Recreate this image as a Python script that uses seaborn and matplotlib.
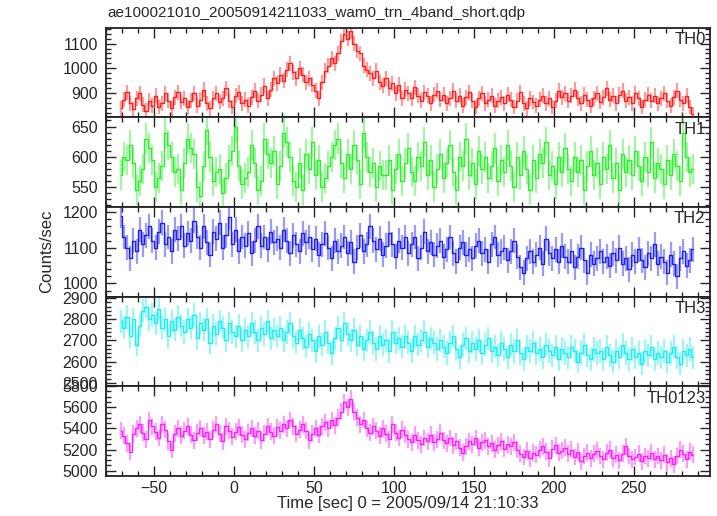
import numpy as np
import pandas as pd
import matplotlib
matplotlib.use('Agg')
from matplotlib import pyplot as plt
from matplotlib.ticker import MultipleLocator
import seaborn as sns

# 2 s bins, centres from -71 to 287 sec
time_start = -71
bin_width = 2

th0 = [840, 875, 905, 860, 835, 880, 900, 855, 830, 870,
       850, 890, 845, 860, 900, 870, 840, 885, 905, 865,
       880, 845, 870, 900, 850, 875, 915, 860, 840, 880,
       900, 865, 880, 920, 870, 845, 890, 905, 860, 875,
       850, 885, 910, 870, 895, 930, 880, 915, 960, 940,
       975, 950, 995, 1020, 985, 960, 1000, 975, 945, 960,
       935, 910, 880, 945, 990, 1010, 1040, 1020, 1060, 1110,
       1140, 1120, 1150, 1100, 1070, 1060, 1010, 995, 980, 960,
       990, 945, 930, 960, 920, 940, 900, 935, 880, 915,
       900, 880, 925, 890, 870, 905, 890, 860, 895, 910,
       875, 895, 860, 880, 910, 870, 890, 850, 885, 905,
       870, 845, 880, 900, 860, 875, 890, 850, 870, 885,
       860, 895, 875, 845, 870, 905, 860, 840, 880, 865,
       850, 875, 890, 860, 880, 845, 870, 910, 885, 900,
       870, 890, 915, 880, 860, 895, 875, 850, 880, 900,
       865, 885, 920, 875, 890, 860, 895, 910, 870, 885,
       860, 900, 880, 845, 875, 895, 870, 890, 860, 880,
       900, 870, 850, 885, 910, 875, 860, 890, 845, 815]

th1 = [570, 600, 595, 620, 590, 545, 560, 580, 630, 615,
       595, 550, 565, 585, 640, 620, 600, 575, 580, 545,
       590, 630, 615, 605, 550, 535, 585, 645, 600, 560,
       575, 580, 540, 565, 595, 610, 650, 585, 555, 565,
       575, 620, 590, 545, 560, 630, 605, 590, 610, 555,
       585, 640, 625, 600, 560, 550, 590, 545, 605, 580,
       625, 570, 595, 550, 565, 585, 600, 620, 630, 590,
       565, 605, 580, 620, 595, 555, 640, 600, 575, 590,
       550, 585, 570, 570, 595, 545, 580, 605, 560, 590,
       615, 575, 560, 600, 585, 625, 570, 595, 550, 580,
       605, 565, 590, 620, 575, 545, 600, 585, 630, 570,
       590, 555, 610, 580, 600, 565, 585, 615, 560, 595,
       575, 620, 585, 550, 600, 570, 610, 580, 545, 595,
       565, 605, 590, 625, 570, 585, 555, 600, 575, 615,
       580, 560, 600, 575, 595, 545, 585, 610, 570, 590,
       555, 600, 580, 620, 565, 590, 545, 605, 575, 595,
       570, 610, 585, 560, 600, 575, 625, 565, 590, 580,
       555, 595, 570, 605, 585, 560, 640, 600, 575, 580]

th2 = [1190, 1130, 1100, 1070, 1120, 1090, 1150, 1110, 1135, 1160,
       1120, 1100, 1145, 1170, 1110, 1130, 1090, 1150, 1125, 1160,
       1105, 1140, 1120, 1175, 1130, 1100, 1160, 1115, 1080, 1145,
       1125, 1170, 1100, 1135, 1185, 1110, 1150, 1090, 1130, 1105,
       1140, 1085, 1120, 1160, 1105, 1130, 1095, 1145, 1115, 1125,
       1100, 1150, 1120, 1085, 1135, 1110, 1090, 1140, 1115, 1130,
       1095, 1125, 1080, 1110, 1140, 1100, 1070, 1120, 1090, 1105,
       1130, 1085, 1115, 1060, 1100, 1135, 1090, 1110, 1160, 1120,
       1095, 1125, 1080, 1105, 1140, 1110, 1075, 1120, 1100, 1130,
       1085, 1110, 1130, 1070, 1100, 1145, 1090, 1115, 1080, 1105,
       1120, 1075, 1095, 1130, 1085, 1060, 1100, 1115, 1080, 1095,
       1070, 1105, 1120, 1085, 1095, 1060, 1110, 1130, 1080, 1090,
       1100, 1065, 1090, 1120, 1075, 1045, 1030, 1070, 1090, 1060,
       1080, 1100, 1055, 1125, 1085, 1070, 1095, 1060, 1105, 1075,
       1060, 1090, 1045, 1075, 1100, 1065, 1030, 1080, 1055, 1070,
       1090, 1060, 1075, 1050, 1085, 1065, 1100, 1055, 1070, 1040,
       1080, 1060, 1095, 1065, 1045, 1085, 1070, 1110, 1055, 1075,
       1060, 1030, 1080, 1055, 1020, 1070, 1090, 1050, 1065, 1095]

th3 = [2790, 2760, 2810, 2720, 2800, 2680, 2770, 2840, 2860, 2800,
       2820, 2780, 2850, 2760, 2800, 2720, 2790, 2750, 2810, 2770,
       2740, 2800, 2760, 2820, 2710, 2780, 2750, 2800, 2690, 2770,
       2730, 2790, 2760, 2700, 2780, 2740, 2720, 2770, 2700, 2750,
       2720, 2780, 2740, 2700, 2760, 2730, 2790, 2710, 2750, 2720,
       2760, 2700, 2740, 2780, 2720, 2690, 2750, 2710, 2670, 2730,
       2700, 2650, 2720, 2680, 2740, 2690, 2640, 2710, 2760, 2700,
       2780, 2730, 2700, 2750, 2680, 2720, 2660, 2700, 2740, 2690,
       2660, 2720, 2680, 2700, 2650, 2740, 2690, 2710, 2670, 2720,
       2690, 2650, 2720, 2680, 2700, 2740, 2670, 2710, 2690, 2660,
       2700, 2670, 2640, 2690, 2720, 2660, 2620, 2680, 2710, 2650,
       2690, 2660, 2700, 2640, 2680, 2710, 2650, 2670, 2630, 2690,
       2660, 2620, 2680, 2650, 2700, 2640, 2610, 2670, 2650, 2690,
       2640, 2660, 2620, 2680, 2650, 2630, 2670, 2610, 2660, 2640,
       2620, 2670, 2650, 2600, 2640, 2680, 2630, 2610, 2660, 2640,
       2650, 2610, 2670, 2630, 2600, 2650, 2620, 2680, 2640, 2610,
       2660, 2620, 2640, 2590, 2650, 2630, 2670, 2610, 2640, 2620,
       2650, 2600, 2640, 2670, 2620, 2590, 2650, 2630, 2660, 2620]

th0123 = [5380, 5330, 5260, 5180, 5350, 5400, 5440, 5360, 5300, 5480,
          5420, 5370, 5310, 5440, 5390, 5280, 5200, 5350, 5400, 5330,
          5380, 5420, 5340, 5290, 5360, 5400, 5330, 5370, 5300, 5390,
          5440, 5350, 5280, 5420, 5380, 5320, 5370, 5410, 5340, 5300,
          5360, 5400, 5330, 5380, 5290, 5350, 5420, 5370, 5330, 5410,
          5380, 5440, 5400, 5480, 5420, 5350, 5390, 5440, 5380, 5290,
          5350, 5400, 5340, 5420, 5460, 5400, 5480, 5430, 5500, 5560,
          5650, 5600, 5680, 5560, 5500, 5440, 5480, 5400, 5360, 5420,
          5380, 5330, 5400, 5350, 5300, 5440, 5360, 5310, 5390, 5340,
          5300, 5270, 5340, 5290, 5250, 5310, 5280, 5340, 5270, 5300,
          5360, 5290, 5260, 5310, 5240, 5280, 5220, 5170, 5230, 5280,
          5250, 5310, 5220, 5270, 5290, 5230, 5260, 5200, 5240, 5280,
          5210, 5250, 5230, 5270, 5200, 5160, 5130, 5190, 5120, 5170,
          5150, 5200, 5230, 5180, 5120, 5210, 5240, 5170, 5190, 5220,
          5160, 5200, 5130, 5180, 5090, 5140, 5170, 5120, 5160, 5190,
          5140, 5110, 5170, 5200, 5120, 5150, 5100, 5160, 5230, 5140,
          5110, 5130, 5160, 5090, 5140, 5120, 5170, 5110, 5140, 5100,
          5150, 5080, 5120, 5060, 5140, 5200, 5160, 5110, 5180, 5150]

band_names = ['TH0', 'TH1', 'TH2', 'TH3', 'TH0123']
band_values = [th0, th1, th2, th3, th0123]
band_errors = [30, 25, 35, 55, 80]

title = 'ae100021010_20050914211033_wam0_trn_4band_short.qdp'
xlabel = 'Time [sec] 0 = 2005/09/14 21:10:33'
ylabel = 'Counts/sec'

colors = ['#ff2020', '#30ee30', '#2020ee', '#20eeee', '#ff20ff']
ylims = [(803, 1163), (517, 665), (963, 1214), (2484, 2907), (4953, 5800)]
yticks = [[900, 1000, 1100], [550, 600, 650], [1000, 1100, 1200],
          [2500, 2600, 2700, 2800, 2900], [5000, 5200, 5400, 5600, 5800]]
yminor = [20, 10, 20, 20, 50]

sns.set_style('ticks')
plt.rcParams['font.family'] = ['Liberation Sans', 'DejaVu Sans']
plt.rcParams['font.size'] = 11

fig, axes = plt.subplots(5, 1, figsize=(7.17, 5.16), dpi=100, sharex=True,
                         gridspec_kw={'hspace': 0})
fig.subplots_adjust(left=0.148, right=0.990, top=0.946, bottom=0.078)

for ax, name, vals, err, col, yl, yt, ym in zip(axes, band_names, band_values, band_errors,
                                                colors, ylims, yticks, yminor):
    t = time_start + bin_width * np.arange(len(vals))
    df = pd.DataFrame({'time': t, 'rate': vals})
    ax.vlines(df['time'], df['rate'] - err, df['rate'] + err, color=col, alpha=0.45, lw=1.6)
    sns.lineplot(data=df, x='time', y='rate', ax=ax, color=col, lw=1.0,
                 drawstyle='steps-mid')
    ax.set_ylim(*yl)
    ax.set_yticks(yt)
    ax.yaxis.set_minor_locator(MultipleLocator(ym))
    ax.set_xlim(-80, 297.5)
    ax.xaxis.set_major_locator(MultipleLocator(50))
    ax.xaxis.set_minor_locator(MultipleLocator(10))
    ax.tick_params(which='both', direction='in', top=True, right=True, labelsize=11.5)
    ax.tick_params(axis='y', pad=6)
    ax.tick_params(axis='x', pad=4)
    ax.tick_params(which='major', length=7, width=1)
    ax.tick_params(which='minor', length=3.5, width=1)
    for s in ax.spines.values():
        s.set_linewidth(1.3)
        s.set_color('#222222')
    ax.set_xlabel('')
    ax.set_ylabel('')
    ax.text(0.993, 0.95, name, transform=ax.transAxes, ha='right', va='top', fontsize=12)

axes[-1].set_xlabel(xlabel, fontsize=12, labelpad=0)
fig.text(0.065, 0.512, ylabel, rotation=90, ha='center', va='center', fontsize=12)
fig.text(0.150, 0.975, title, ha='left', va='center', fontsize=11)

plt.savefig('out.png', dpi=100)
